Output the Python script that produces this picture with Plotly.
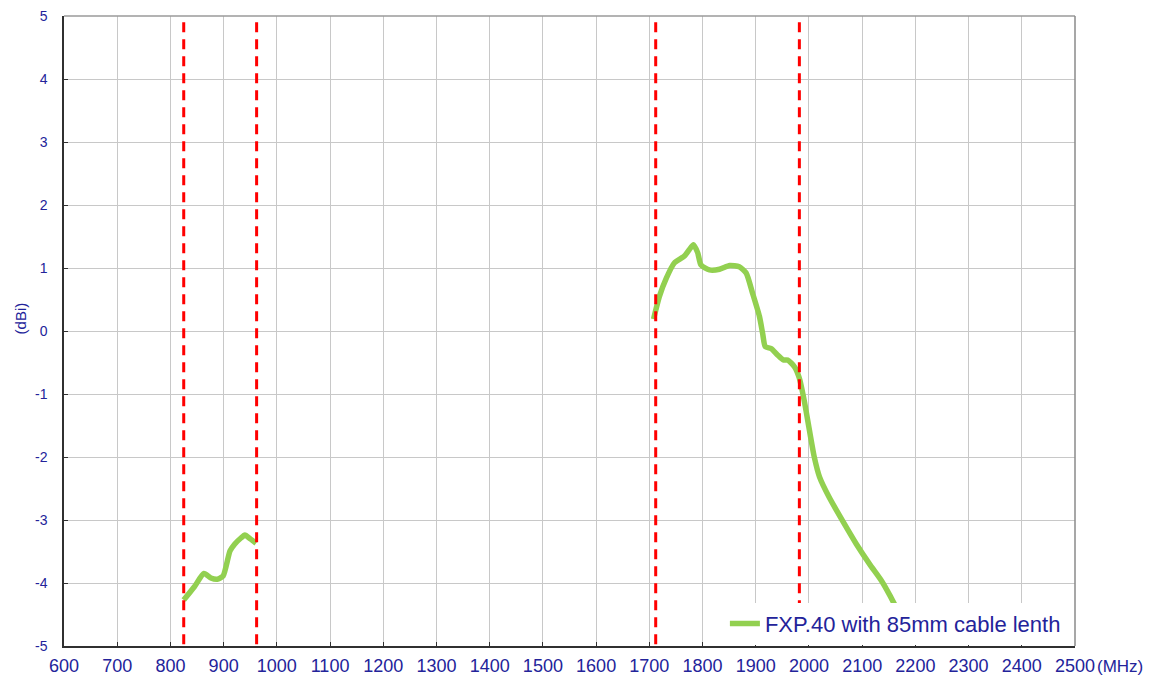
import plotly.graph_objects as go

# Low band measured gain (MHz, dBi)
low_freq = [825, 845, 863, 876, 888, 899, 912, 921, 932, 940, 950, 961]
low_gain = [-4.27, -4.06, -3.85, -3.92, -3.94, -3.89, -3.49, -3.38, -3.29, -3.24, -3.30, -3.37]

# High band measured gain (MHz, dBi)
high_freq = [1708, 1719, 1732, 1747, 1766, 1775, 1783, 1791, 1797, 1813, 1832, 1851, 1869,
             1882, 1894, 1907, 1913, 1918, 1929, 1941, 1952, 1960, 1973, 1982, 1991, 2001,
             2010, 2020, 2038, 2063, 2089, 2114, 2136, 2151, 2164]
high_gain = [0.19, 0.55, 0.84, 1.08, 1.19, 1.29, 1.37, 1.24, 1.05, 0.97, 0.98, 1.04, 1.02,
             0.92, 0.60, 0.23, -0.04, -0.25, -0.28, -0.38, -0.46, -0.46, -0.57, -0.75, -1.10, -1.58,
             -2.00, -2.32, -2.64, -3.01, -3.38, -3.70, -3.96, -4.18, -4.39]

# Band edge markers (MHz)
band_edges = [825, 962, 1712, 1982]

x_ticks = list(range(600, 2501, 100))
y_ticks = list(range(-5, 6))
y_labels = [str(v) for v in y_ticks]

series_name = "FXP.40 with 85mm cable lenth"
green = "#92D050"
label_color = "#23239A"

fig = go.Figure()
fig.add_trace(go.Scatter(x=low_freq, y=low_gain, mode="lines",
                         line=dict(color=green, width=5.5, shape="spline", smoothing=0.6),
                         name=series_name, showlegend=False))
fig.add_trace(go.Scatter(x=high_freq, y=high_gain, mode="lines",
                         line=dict(color=green, width=5.5, shape="spline", smoothing=0.6),
                         name=series_name, showlegend=True))

for f in band_edges:
    fig.add_shape(type="line", x0=f, x1=f, y0=4.9, y1=-5, xref="x", yref="y",
                  line=dict(color="#FF0000", width=3, dash="10px,7px"), layer="above")

# top and right frame (gray)
fig.add_shape(type="line", x0=0, x1=1, y0=1, y1=1, xref="paper", yref="paper",
              line=dict(color="#9A9A9A", width=1.5), layer="above")
fig.add_shape(type="line", x0=1, x1=1, y0=0, y1=1, xref="paper", yref="paper",
              line=dict(color="#8A8A8A", width=1.5), layer="above")

fig.update_layout(
    width=1157, height=682,
    margin=dict(l=64, r=82, t=16, b=36),
    plot_bgcolor="white", paper_bgcolor="white",
    font=dict(family="Arial, Liberation Sans, sans-serif", color=label_color),
    legend=dict(x=0.991, y=0.002, xanchor="right", yanchor="bottom", bgcolor="white",
                font=dict(size=22, color=label_color), borderwidth=0),
    xaxis=dict(range=[600, 2500], tickvals=x_ticks, ticktext=[str(v) for v in x_ticks],
               showgrid=True, gridcolor="#C8C8C8", gridwidth=1.3,
               showline=True, linecolor="#303030", linewidth=1.5, mirror=False,
               ticks="inside", ticklen=4, tickcolor="#303030", automargin=False,
               ticklabelstandoff=3,
               tickfont=dict(size=18, color=label_color), zeroline=False),
    yaxis=dict(range=[-5, 5], tickvals=y_ticks, ticktext=y_labels,
               showgrid=True, gridcolor="#C8C8C8", gridwidth=1.3,
               showline=True, linecolor="#303030", linewidth=1.5, mirror=False,
               ticks="inside", ticklen=4, tickcolor="#303030", automargin=False,
               ticklabelstandoff=12,
               tickfont=dict(size=14, color=label_color), zeroline=False),
)

fig.add_annotation(text="(MHz)", xref="paper", yref="paper", x=1, y=0, xanchor="left", yanchor="top",
                   xshift=20, yshift=-9, showarrow=False, font=dict(size=17, color=label_color))
fig.add_annotation(text="(dBi)", xref="paper", yref="y", x=0, y=0.2, xanchor="center", yanchor="middle",
                   xshift=-44, textangle=-90, showarrow=False, font=dict(size=15, color=label_color))

fig.write_html("out.html", config={"displayModeBar": False},
               post_script="document.body.style.margin='0';document.body.style.overflow='hidden';")
